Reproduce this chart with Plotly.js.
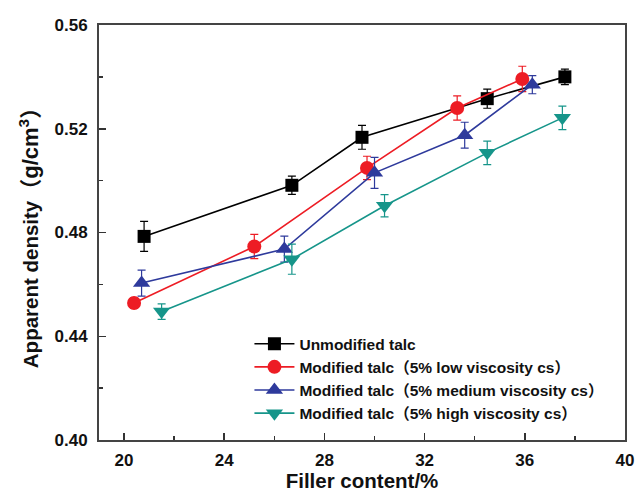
<!DOCTYPE html>
<html>
<head>
<meta charset="utf-8">
<script src="https://cdn.plot.ly/plotly-3.0.1.min.js"></script>
<style>html,body{margin:0;padding:0;background:#fff;}#chart{width:639px;height:492px;}</style>
</head>
<body>
<div id="chart"></div>
<script>
// Data
const seriesNames = [
  "Unmodified talc",
  "Modified talc（5% low viscosity cs）",
  "Modified talc（5% medium viscosity cs）",
  "Modified talc（5% high viscosity cs）"
];
const unmodX = [20.8, 26.7, 29.5, 34.5, 37.6];
const unmodY = [0.4785, 0.4982, 0.5167, 0.5316, 0.5400];
const unmodErr = [0.0058, 0.0035, 0.0046, 0.0037, 0.0030];

const lowX = [20.4, 25.2, 29.7, 33.3, 35.9];
const lowY = [0.4528, 0.4746, 0.5049, 0.5280, 0.5392];
const lowErr = [0.0020, 0.0047, 0.0045, 0.0047, 0.0049];

const medX = [20.7, 26.4, 30.0, 33.6, 36.3];
const medY = [0.4605, 0.4736, 0.5030, 0.5175, 0.5370];
const medErr = [0.0050, 0.0050, 0.0060, 0.0050, 0.0035];

const highX = [21.5, 26.7, 30.4, 34.5, 37.5];
const highY = [0.4495, 0.4697, 0.4903, 0.5107, 0.5242];
const highErr = [0.0030, 0.0058, 0.0043, 0.0045, 0.0045];

const colors = ["#000000", "#ED1C24", "#2E3A9C", "#16958A"];
const symbols = ["square", "circle", "triangle-up", "triangle-down"];
const sizes = [13, 14, 15, 15];

const xs = [unmodX, lowX, medX, highX];
const ys = [unmodY, lowY, medY, highY];
const errs = [unmodErr, lowErr, medErr, highErr];

const traces = xs.map((x, i) => ({
  type: "scatter",
  mode: "lines+markers",
  name: seriesNames[i],
  x: x,
  y: ys[i],
  line: {color: colors[i], width: 1.6},
  marker: {color: colors[i], symbol: symbols[i], size: sizes[i]},
  error_y: {type: "data", array: errs[i], visible: true, color: colors[i], thickness: 1.2, width: 4}
}));

const fontFam = "Liberation Sans, Arial, Noto Sans CJK SC, sans-serif";

const layout = {
  width: 639,
  height: 492,
  margin: {l: 98.5, r: 14, t: 25, b: 52},
  paper_bgcolor: "#fff",
  plot_bgcolor: "#fff",
  font: {family: fontFam, color: "#111"},
  showlegend: true,
  legend: {
    x: 0.286, y: 0.272, xanchor: "left", yanchor: "top",
    bgcolor: "rgba(0,0,0,0)",
    font: {family: fontFam, size: 15.5, color: "#111", weight: "bold"},
    tracegroupgap: 0,
    itemwidth: 40
  },
  xaxis: {
    range: [19, 40],
    tickvals: [20, 24, 28, 32, 36, 40],
    ticks: "inside", ticklen: 7, tickwidth: 1.5, tickcolor: "#333",
    minor: {tickvals: [22, 26, 30, 34, 38], ticks: "inside", ticklen: 4, tickwidth: 1.5, tickcolor: "#333"},
    showline: true, linecolor: "#444", linewidth: 2, mirror: true,
    showgrid: false, zeroline: false,
    tickfont: {family: fontFam, size: 17, color: "#111", weight: "bold"},
    ticklabelstandoff: 4,
    title: {text: "Filler content/%", font: {family: fontFam, size: 20.5, color: "#111", weight: "bold"}, standoff: 5}
  },
  yaxis: {
    range: [0.40, 0.56],
    tickvals: [0.40, 0.44, 0.48, 0.52, 0.56],
    ticktext: ["0.40", "0.44", "0.48", "0.52", "0.56"],
    ticks: "inside", ticklen: 7, tickwidth: 1.5, tickcolor: "#333",
    minor: {tickvals: [0.42, 0.46, 0.50, 0.54], ticks: "inside", ticklen: 4, tickwidth: 1.5, tickcolor: "#333"},
    showline: true, linecolor: "#444", linewidth: 2, mirror: true,
    showgrid: false, zeroline: false,
    tickfont: {family: fontFam, size: 17, color: "#111", weight: "bold"},
    ticklabelstandoff: 6,
    title: {text: "Apparent density<span style=\"font-size:22px\">（g/cm<sup>3</sup>）</span>", font: {family: fontFam, size: 20.5, color: "#111", weight: "bold"}, standoff: 10}
  }
};

Plotly.newPlot("chart", traces, layout, {displayModeBar: false, staticPlot: true});
</script>
</body>
</html>
